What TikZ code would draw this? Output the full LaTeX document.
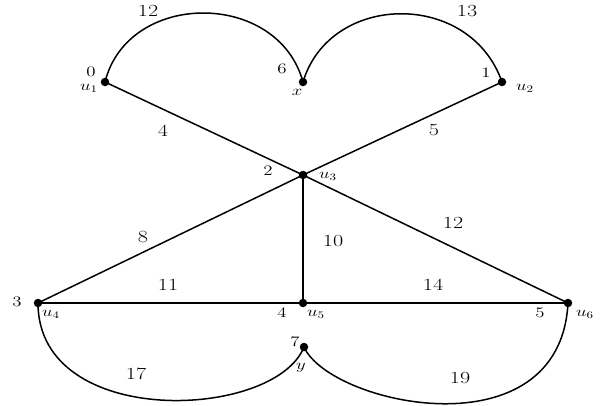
\documentclass[tikz,border=0pt]{standalone}
\usepackage{fontspec}
\newcommand\hsc[1]{\scalebox{1.3}[1]{#1}}
\begin{document}
\begin{tikzpicture}[x=1pt,y=-1pt,
  vtx/.style={circle,fill=black,inner sep=0pt,minimum size=8.5pt},
  edge/.style={line width=1.5pt},
  elab/.style={inner sep=0pt,font=\fontsize{17}{19}\selectfont},
  vlab/.style={inner sep=0pt,font=\fontsize{14.5}{16}\selectfont}]
\useasboundingbox (0,0) rectangle (603,405);
% vertices
\node[vtx] (u1) at (105,82) {};
\node[vtx] (x)  at (303,82) {};
\node[vtx] (u2) at (502,82) {};
\node[vtx] (u3) at (303,175) {};
\node[vtx] (u4) at (38,303) {};
\node[vtx] (u5) at (303,303) {};
\node[vtx] (u6) at (568,303) {};
\node[vtx] (y)  at (304,347) {};
% straight edges
\draw[edge] (u1.center) -- (u3.center);
\draw[edge] (u2.center) -- (u3.center);
\draw[edge] (u4.center) -- (u3.center);
\draw[edge] (u3.center) -- (u5.center);
\draw[edge] (u3.center) -- (u6.center);
\draw[edge] (u4.center) -- (u5.center);
\draw[edge] (u5.center) -- (u6.center);
% curved edges
\draw[edge] (u1.center) .. controls (128,-10) and (278,-10) .. (x.center);
\draw[edge] (x.center) .. controls (330,-8) and (470,-10) .. (u2.center);
\draw[edge] (u4.center) .. controls (38,430) and (275,420) .. (y.center);
\draw[edge] (y.center) .. controls (330,405) and (560,455) .. (u6.center);
% vertex labels
\node[vlab] (l0) at (91,72) {\hsc{0}};
\node[vlab] (lu1) at (89,88) {\hsc{$u_1$}};
\node[vlab] (l6) at (282,69) {\hsc{6}};
\node[vlab] (lx) at (297,92) {\hsc{$x$}};
\node[vlab] (l1) at (486,73) {\hsc{1}};
\node[vlab] (lu2) at (525,88) {\hsc{$u_2$}};
\node[vlab] (l2) at (268,171) {\hsc{2}};
\node[vlab] (lu3) at (328,176) {\hsc{$u_3$}};
\node[vlab] (l3) at (17,302) {\hsc{3}};
\node[vlab] (lu4) at (51,314) {\hsc{$u_4$}};
\node[vlab] (l4) at (282,313) {\hsc{4}};
\node[vlab] (lu5) at (316,314) {\hsc{$u_5$}};
\node[vlab] (l5) at (540,313) {\hsc{5}};
\node[vlab] (lu6) at (585,314) {\hsc{$u_6$}};
\node[vlab] (l7) at (295,342) {\hsc{7}};
\node[vlab] (ly) at (301,368) {\hsc{$y$}};
% edge labels
\node[elab] (e12a) at (148,11) {\hsc{12}};
\node[elab] (e13) at (467,11) {\hsc{13}};
\node[elab] (e4) at (163,131) {\hsc{4}};
\node[elab] (e5) at (434,130) {\hsc{5}};
\node[elab] (e8) at (143,237) {\hsc{8}};
\node[elab] (e10) at (333,241) {\hsc{10}};
\node[elab] (e12b) at (453,223) {\hsc{12}};
\node[elab] (e11) at (168,285) {\hsc{11}};
\node[elab] (e14) at (433,285) {\hsc{14}};
\node[elab] (e17) at (136,374) {\hsc{17}};
\node[elab] (e19) at (460,378) {\hsc{19}};
\end{tikzpicture}
\end{document}
